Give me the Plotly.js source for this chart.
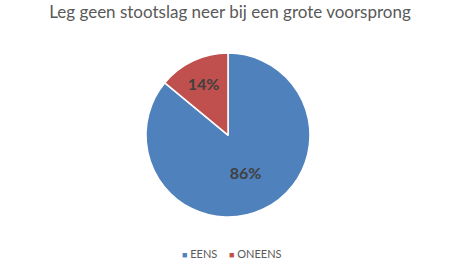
<!DOCTYPE html>
<html>
<head>
<meta charset="utf-8">
<script src="https://cdn.plot.ly/plotly-3.0.1.min.js"></script>
<style>html,body{margin:0;padding:0;background:#fff;}#chart{width:460px;height:267px;}</style>
</head>
<body>
<div id="chart"></div>
<script>
var categories = ["EENS", "ONEENS"];
var percentages = [86, 14];
var colors = ["#4F81BD", "#C0504D"];

var trace = {
  type: "pie",
  labels: categories,
  values: percentages,
  sort: false,
  direction: "clockwise",
  rotation: 0,
  marker: {colors: colors, line: {color: "#FFFFFF", width: 1.5}},
  texttemplate: "<b>%{value}%</b>",
  textposition: "inside",
  insidetextorientation: "horizontal",
  textfont: {family: "Lato, 'Open Sans', sans-serif", size: 16, color: "#404040"},
  hoverinfo: "none",
  domain: {x: [0.3174, 0.6739], y: [0.186, 0.802]}
};

var legendX = [0.434, 0.556];
var annotations = categories.map(function (c, i) {
  return {
    xref: "paper", yref: "paper",
    x: legendX[i], y: 0.049,
    xanchor: "center", yanchor: "middle",
    showarrow: false,
    text: "<span style='color:" + colors[i] + ";font-size:9px'>■</span> " + c,
    font: {family: "Lato, 'Open Sans', sans-serif", size: 11, color: "#595959"}
  };
});

var layout = {
  width: 460,
  height: 267,
  margin: {l: 0, r: 0, t: 0, b: 0},
  paper_bgcolor: "#FFFFFF",
  title: {
    text: "Leg geen stootslag neer bij een grote voorsprong",
    font: {family: "Lato, 'Open Sans', sans-serif", size: 17, color: "#595959"},
    x: 0.5, xanchor: "center", y: 0.955, yanchor: "middle"
  },
  showlegend: false,
  annotations: annotations
};

Plotly.newPlot("chart", [trace], layout, {staticPlot: true, displayModeBar: false});
</script>
</body>
</html>
